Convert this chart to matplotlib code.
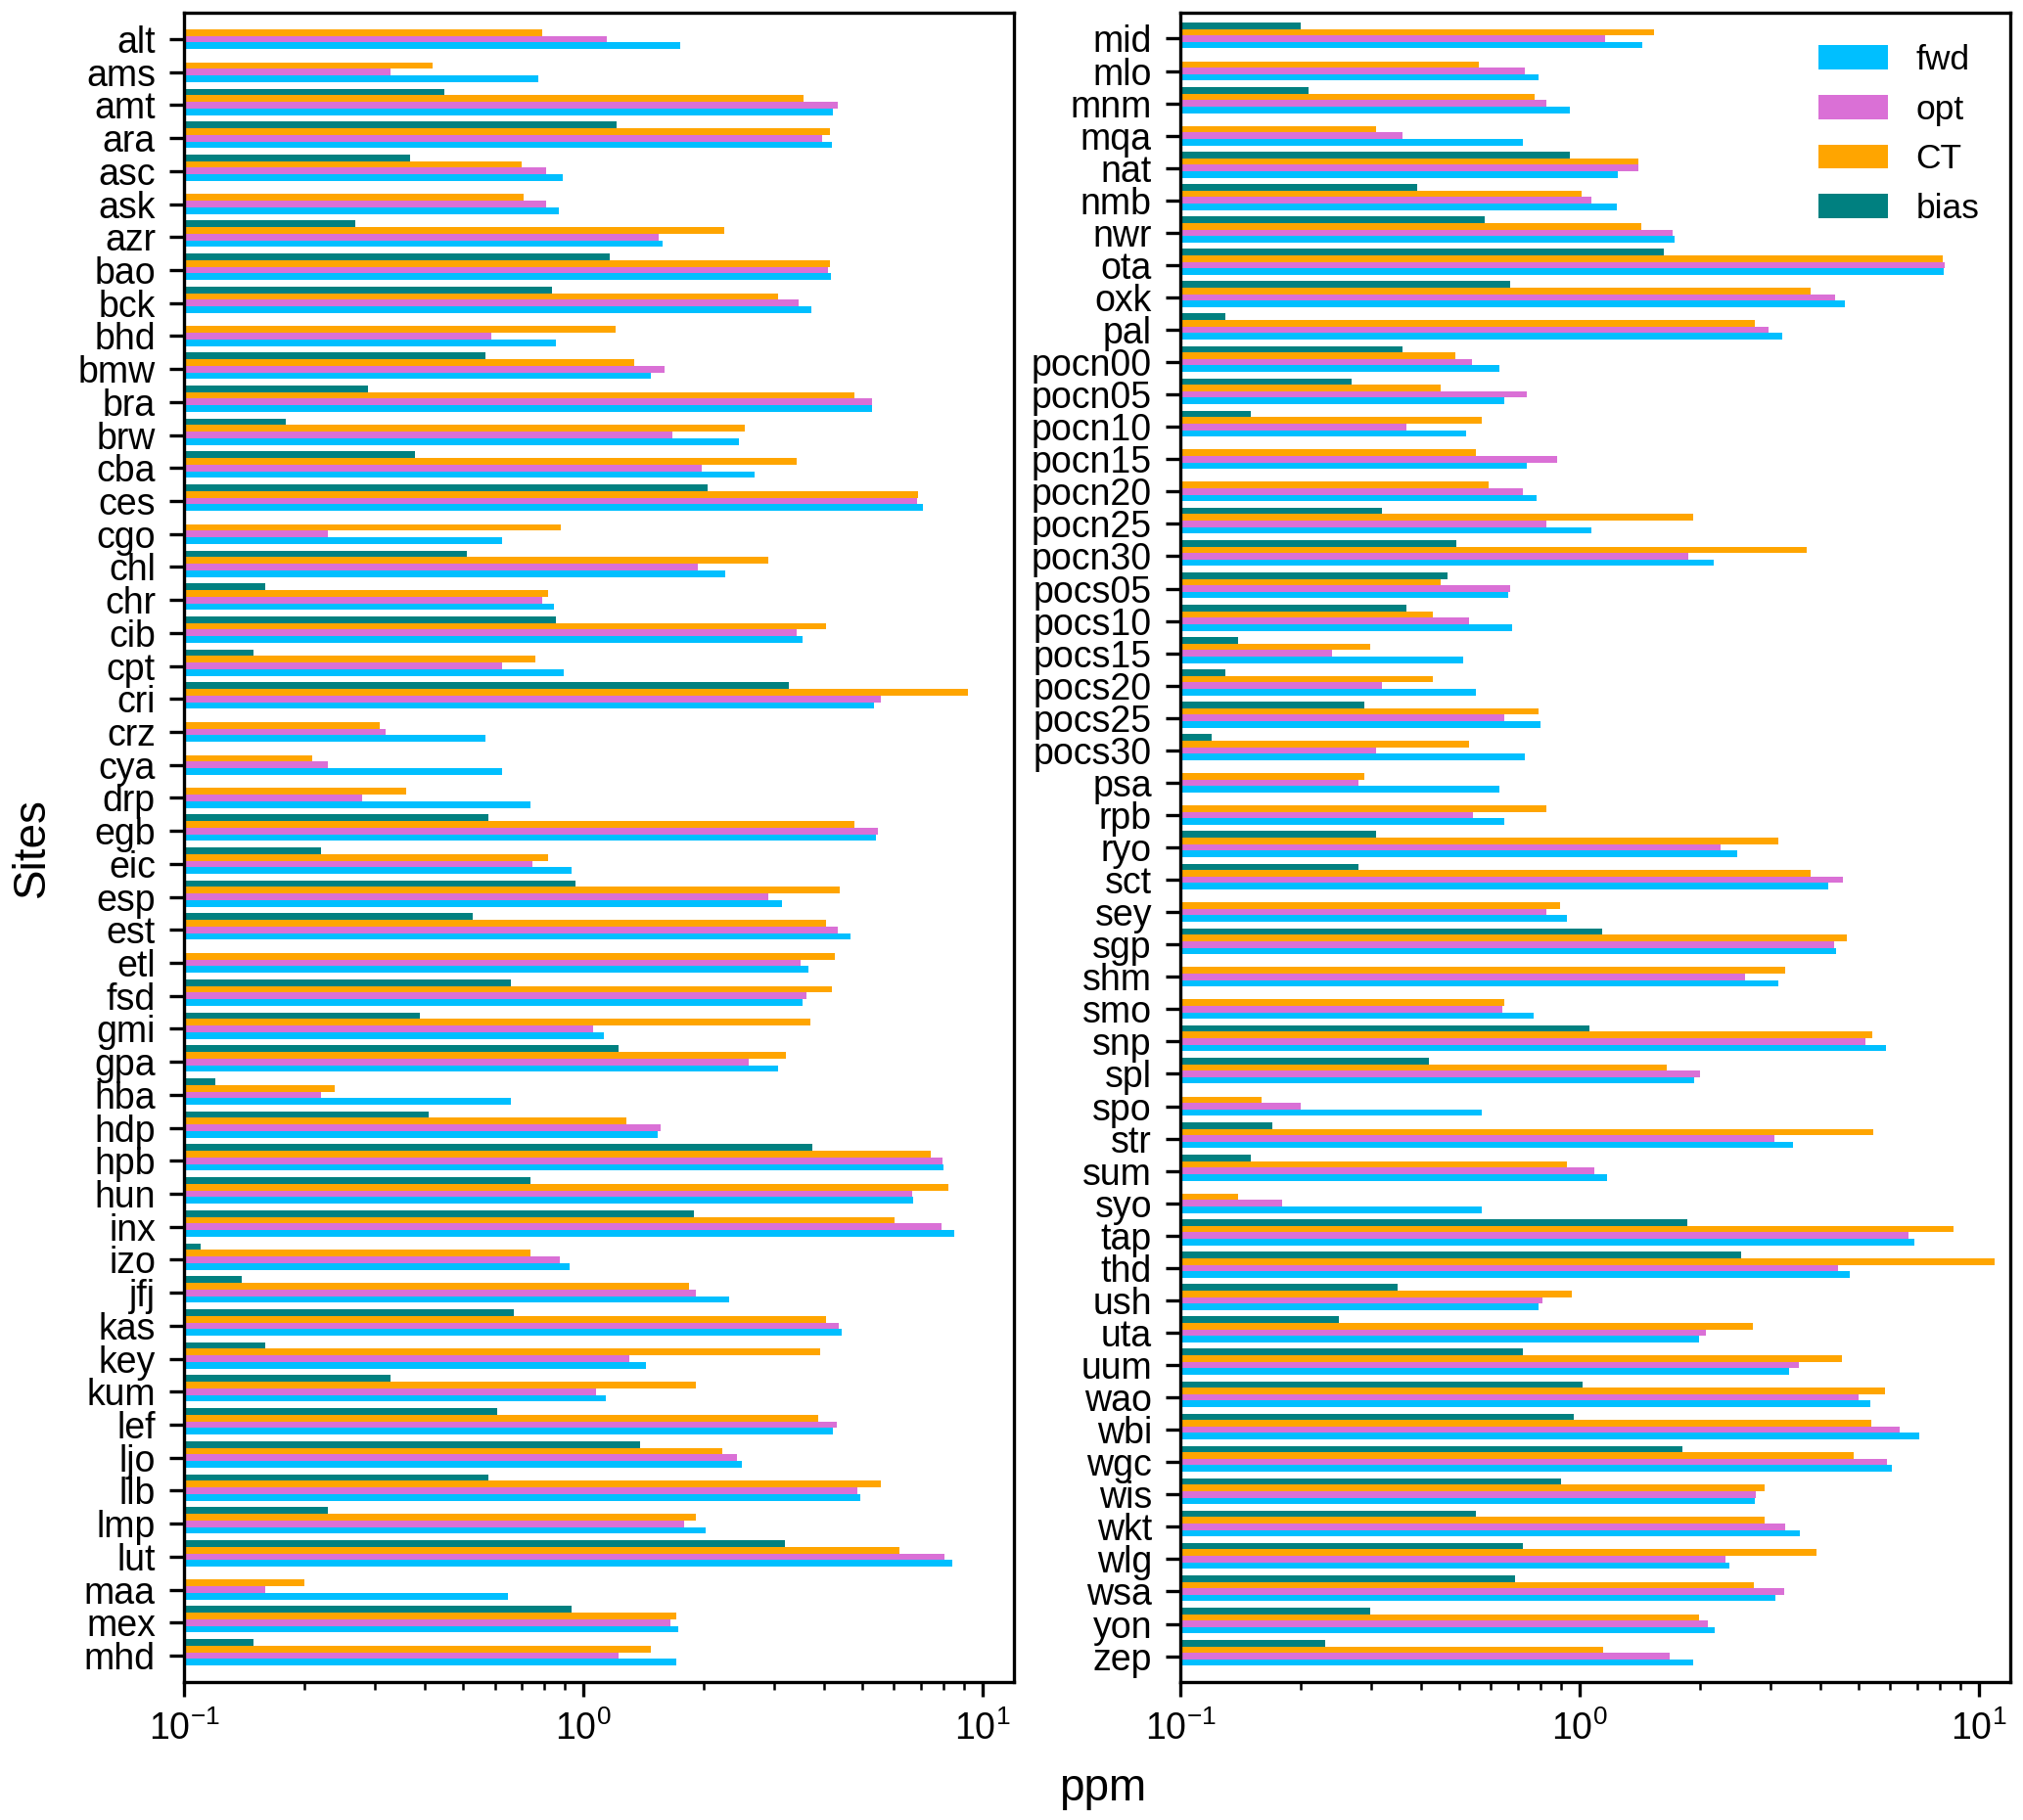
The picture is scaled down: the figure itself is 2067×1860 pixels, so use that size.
import numpy as np
import matplotlib
matplotlib.use('Agg')
import matplotlib.pyplot as plt

plt.rcParams['font.family'] = ['Liberation Sans', 'DejaVu Sans']

nan = np.nan

# sites, left panel
sites_left = ['alt', 'ams', 'amt', 'ara', 'asc', 'ask', 'azr', 'bao', 'bck', 'bhd',
              'bmw', 'bra', 'brw', 'cba', 'ces', 'cgo', 'chl', 'chr', 'cib', 'cpt',
              'cri', 'crz', 'cya', 'drp', 'egb', 'eic', 'esp', 'est', 'etl', 'fsd',
              'gmi', 'gpa', 'hba', 'hdp', 'hpb', 'hun', 'inx', 'izo', 'jfj', 'kas',
              'key', 'kum', 'lef', 'ljo', 'llb', 'lmp', 'lut', 'maa', 'mex', 'mhd']
fwd_left = [1.75, 0.77, 4.23, 4.20, 0.889, 0.869, 1.578, 4.17, 3.73, 0.856,
            1.475, 5.28, 2.457, 2.68, 7.08, 0.627, 2.262, 0.846, 3.54, 0.895,
            5.36, 0.568, 0.627, 0.736, 5.40, 0.937, 3.14, 4.67, 3.67, 3.54,
            1.125, 3.07, 0.658, 1.537, 7.98, 6.72, 8.51, 0.926, 2.314, 4.45,
            1.437, 1.138, 4.22, 2.50, 4.94, 2.022, 8.38, 0.646, 1.733, 1.707]
opt_left = [1.147, 0.329, 4.33, 3.96, 0.806, 0.806, 1.548, 4.11, 3.46, 0.588,
            1.596, 5.28, 1.675, 1.984, 6.84, 0.229, 1.932, 0.788, 3.43, 0.627,
            5.57, 0.319, 0.229, 0.28, 5.47, 0.747, 2.91, 4.35, 3.51, 3.63,
            1.056, 2.60, 0.22, 1.566, 7.92, 6.67, 7.89, 0.875, 1.918, 4.36,
            1.307, 1.076, 4.31, 2.42, 4.85, 1.792, 8.04, 0.16, 1.656, 1.227]
ct_left = [0.788, 0.42, 3.56, 4.15, 0.699, 0.709, 2.254, 4.14, 3.07, 1.204,
           1.343, 4.77, 2.54, 3.43, 6.90, 0.879, 2.90, 0.818, 4.06, 0.759,
           9.21, 0.309, 0.2095, 0.36, 4.77, 0.818, 4.38, 4.05, 4.27, 4.19,
           3.70, 3.21, 0.239, 1.283, 7.41, 8.19, 6.03, 0.736, 1.840, 4.05,
           3.93, 1.918, 3.87, 2.23, 5.57, 1.918, 6.19, 0.1996, 1.707, 1.475]
bias_left = [nan, nan, 0.449, 1.21, 0.369, nan, 0.269, 1.164, 0.837, nan,
             0.568, 0.289, 0.1797, 0.379, 2.044, nan, 0.51, 0.16, 0.856, 0.1494,
             3.27, nan, nan, nan, 0.579, 0.22, 0.958, 0.529, nan, 0.658,
             0.389, 1.222, 0.1197, 0.409, 3.75, 0.739, 1.896, 0.1098, 0.1396, 0.671,
             0.16, 0.329, 0.608, 1.389, 0.579, 0.229, 3.20, nan, 0.937, 0.1494]

# sites, right panel
sites_right = ['mid', 'mlo', 'mnm', 'mqa', 'nat', 'nmb', 'nwr', 'ota', 'oxk', 'pal',
               'pocn00', 'pocn05', 'pocn10', 'pocn15', 'pocn20', 'pocn25', 'pocn30',
               'pocs05', 'pocs10', 'pocs15', 'pocs20', 'pocs25', 'pocs30',
               'psa', 'rpb', 'ryo', 'sct', 'sey', 'sgp', 'shm',
               'smo', 'snp', 'spl', 'spo', 'str', 'sum', 'syo', 'tap', 'thd', 'ush',
               'uta', 'uum', 'wao', 'wbi', 'wgc', 'wis', 'wkt', 'wlg', 'wsa', 'yon', 'zep']
fwd_right = [1.437, 0.788, 0.947, 0.72, 1.245, 1.236, 1.733, 8.17, 4.62, 3.21,
             0.629, 0.649, 0.519, 0.739, 0.779, 1.068, 2.17, 0.661, 0.678, 0.51,
             0.55, 0.80, 0.731, 0.629, 0.649, 2.475, 4.19, 0.929, 4.40, 3.14,
             0.767, 5.85, 1.94, 0.568, 3.42, 1.168, 0.568, 6.90, 4.76, 0.788,
             1.991, 3.35, 5.34, 7.08, 6.07, 2.75, 3.56, 2.375, 3.09, 2.18, 1.925]
opt_right = [1.155, 0.728, 0.827, 0.36, 1.405, 1.068, 1.713, 8.23, 4.36, 2.975,
             0.537, 0.739, 0.369, 0.879, 0.72, 0.827, 1.868, 0.668, 0.529, 0.24,
             0.319, 0.649, 0.309, 0.28, 0.539, 2.254, 4.56, 0.827, 4.35, 2.59,
             0.639, 5.19, 2.007, 0.1996, 3.08, 1.088, 0.1797, 6.67, 4.45, 0.809,
             2.07, 3.55, 5.01, 6.35, 5.87, 2.77, 3.27, 2.32, 3.26, 2.10, 1.682]
ct_right = [1.537, 0.558, 0.77, 0.309, 1.405, 1.01, 1.426, 8.10, 3.80, 2.74,
            0.489, 0.449, 0.568, 0.55, 0.59, 1.925, 3.71, 0.449, 0.429, 0.299,
            0.429, 0.788, 0.529, 0.289, 0.827, 3.15, 3.78, 0.892, 4.67, 3.27,
            0.649, 5.42, 1.656, 0.16, 5.44, 0.929, 0.1396, 8.64, 10.94, 0.958,
            2.72, 4.53, 5.82, 5.38, 4.85, 2.90, 2.90, 3.91, 2.73, 1.991, 1.147]
bias_right = [0.1996, nan, 0.2095, nan, 0.947, 0.391, 0.579, 1.626, 0.668, 0.1296,
              0.36, 0.269, 0.15, nan, nan, 0.319, 0.491, 0.468, 0.369, 0.1396,
              0.1296, 0.289, 0.1197, nan, nan, 0.309, 0.28, nan, 1.138, nan,
              nan, 1.06, 0.42, nan, 0.17, 0.15, nan, 1.861, 2.54, 0.35,
              0.25, 0.72, 1.017, 0.965, 1.806, 0.898, 0.55, 0.72, 0.688, 0.299, 0.23]


def draw_panel(ax, sites, fwd, opt, ct, bias):
    y = np.arange(len(sites))
    h = 0.2
    ax.barh(y + h, fwd, h, color='deepskyblue', label='fwd')
    ax.barh(y, opt, h, color='orchid', label='opt')
    ax.barh(y - h, ct, h, color='orange', label='CT')
    ax.barh(y - 2 * h, bias, h, color='teal', label='bias')
    ax.set_xscale('log')
    ax.set_xlim(0.1, 12)
    ax.set_ylim(len(sites) - 0.2, -0.8)
    ax.set_yticks(y)
    ax.set_yticklabels(sites, fontsize=9)
    ax.tick_params(axis='x', labelsize=9)


fig = plt.figure(figsize=(6.89, 6.2), dpi=300)
ax_l = fig.add_axes([0.0910, 0.0758, 0.4103, 0.9172])
ax_r = fig.add_axes([0.5835, 0.0758, 0.4103, 0.9172])

draw_panel(ax_l, sites_left, fwd_left, opt_left, ct_left, bias_left)
draw_panel(ax_r, sites_right, fwd_right, opt_right, ct_right, bias_right)

ax_l.set_ylabel('Sites', fontsize=11)
ax_l.yaxis.set_label_coords(-0.157, 0.5)
ax_r.legend(fontsize=8.5, frameon=False, loc='upper right')
fig.text(0.5452, 0.0108, 'ppm', fontsize=11, ha='center', va='baseline')

fig.savefig('out.png', dpi=300)
